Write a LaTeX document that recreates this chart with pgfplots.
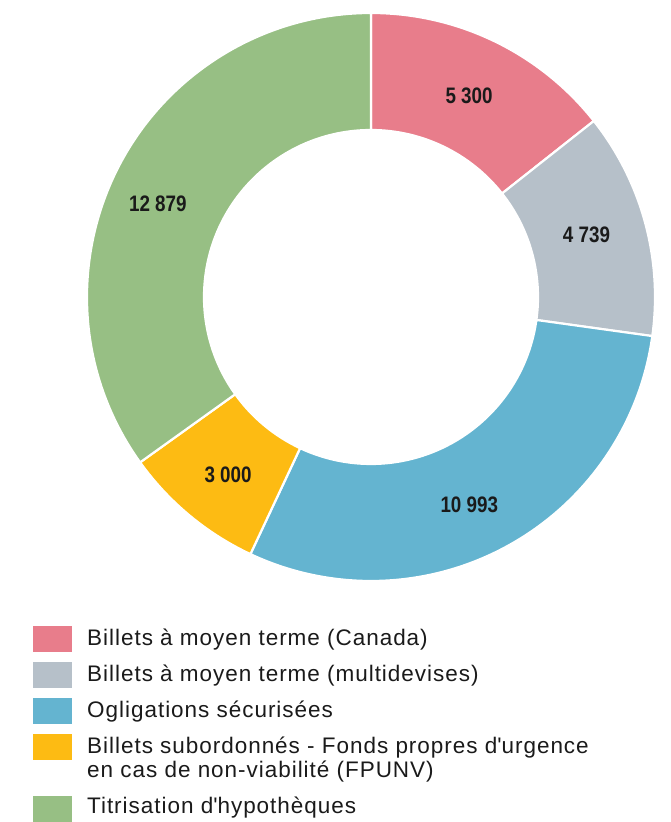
\documentclass[border=0pt]{standalone}
\usepackage{pgfplots}
\pgfplotsset{compat=1.18}
\usepackage{fontspec}
\setmainfont{Liberation Sans}
\usetikzlibrary{calc}
\definecolor{cpink}{HTML}{E87D8B}
\definecolor{cgray}{HTML}{B6C0C9}
\definecolor{cblue}{HTML}{64B4D0}
\definecolor{cyellow}{HTML}{FDBB13}
\definecolor{cgreen}{HTML}{97BF84}
\definecolor{ctext}{HTML}{1A1A1A}

% values
\def\vA{5300}\def\vB{4739}\def\vC{10993}\def\vD{3000}\def\vE{12879}
\edef\total{\fpeval{\vA+\vB+\vC+\vD+\vE}}
\def\cx{371}\def\cy{525}
\def\Rout{284pt}\def\Rin{167pt}\def\Rlab{225pt}

\newcommand\wedgeseg[3]{% start, value, color
  \edef\aA{\fpeval{90-360*(#1)/\total}}%
  \edef\aB{\fpeval{90-360*(#1+#2)/\total}}%
  \edef\tmp{\noexpand\fill[#3, draw=white, line width=2.2pt] ($(axis cs:\cx,\cy)+(\aA:\Rout)$) arc[start angle=\aA, end angle=\aB, radius=\Rout] -- ($(axis cs:\cx,\cy)+(\aB:\Rin)$) arc[start angle=\aB, end angle=\aA, radius=\Rin] -- cycle;}%
  \tmp}
\newcommand\wedgelab[5]{% start, value, text, xshift, yshift
  \edef\aM{\fpeval{90-360*(#1+0.5*#2)/\total}}%
  \edef\tmp{\noexpand\node[text=ctext, inner sep=0pt, xshift=#4pt, yshift=#5pt] at ($(axis cs:\cx,\cy)+(\aM:\Rlab)$) {\noexpand\scalebox{0.84}[1]{\noexpand\fontsize{22.4}{22}\noexpand\selectfont\noexpand\bfseries #3}};}%
  \tmp}

\newcommand\legsq[2]{% y center (px), color
  \fill[#2] (axis cs:33,{822-#1+13}) rectangle (axis cs:72,{822-#1-13});}
\newfontfamily\legfont[LetterSpace=4.3]{Liberation Sans}

\begin{document}
\begin{tikzpicture}
\begin{axis}[
  x=1pt, y=1pt,
  xmin=0, xmax=670, ymin=0, ymax=822,
  hide axis, clip=false,
  scale only axis,
]
\path (axis cs:0,0) rectangle (axis cs:670,822);
\wedgeseg{0}{\vA}{cpink}
\wedgeseg{\vA}{\vB}{cgray}
\wedgeseg{\vA+\vB}{\vC}{cblue}
\wedgeseg{\vA+\vB+\vC}{\vD}{cyellow}
\wedgeseg{\vA+\vB+\vC+\vD}{\vE}{cgreen}
\wedgelab{0}{\vA}{5 300}{0}{-0.8}
\wedgelab{\vA}{\vB}{4 739}{-1.6}{3.5}
\wedgelab{\vA+\vB}{\vC}{10 993}{-9}{-10}
\wedgelab{\vA+\vB+\vC}{\vD}{3 000}{1}{-5}
\wedgelab{\vA+\vB+\vC+\vD}{\vE}{12 879}{-13}{-10}

% legend
\legsq{639}{cpink}
\legsq{675}{cgray}
\legsq{711.5}{cblue}
\legsq{747}{cyellow}
\legsq{809}{cgreen}
\begin{scope}[every node/.style={anchor=base west, inner sep=0pt, text=ctext, font=\legfont\fontsize{22.5}{24}\selectfont}]
\node at (axis cs:87,{822-645.5}) {Billets à moyen terme (Canada)};
\node at (axis cs:87,{822-681.5}) {Billets à moyen terme (multidevises)};
\node at (axis cs:87,{822-718}) {Ogligations sécurisées};
\node at (axis cs:87,{822-754}) {Billets subordonnés - Fonds propres d\textquotesingle urgence};
\node at (axis cs:87,{822-778}) {en cas de non-viabilité (FPUNV)};
\node at (axis cs:87,{822-813.5}) {Titrisation d\textquotesingle hypothèques};
\end{scope}
\end{axis}
\end{tikzpicture}
\end{document}
